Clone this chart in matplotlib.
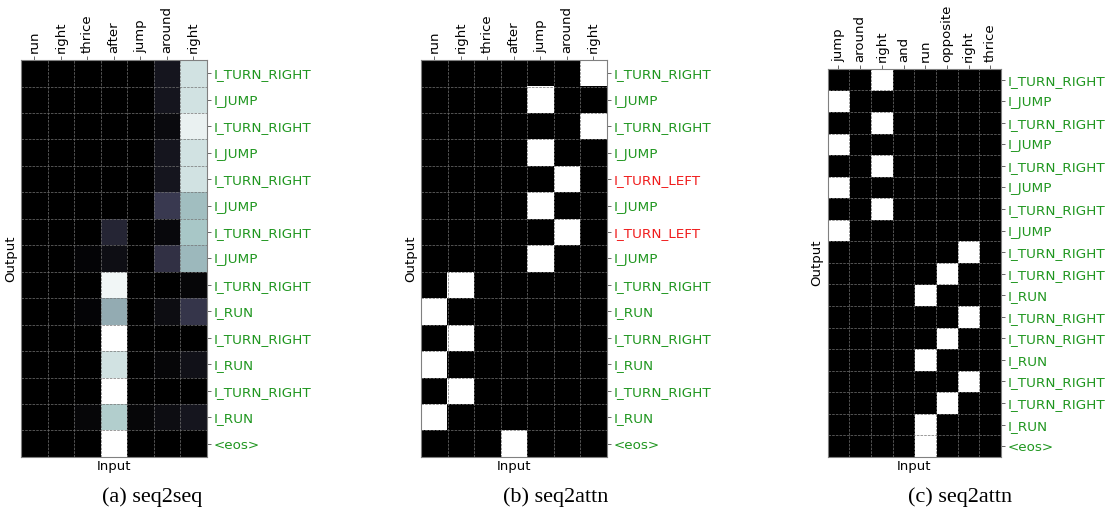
"""
Attention maps for three SCAN examples: seq2seq vs seq2attn.
"""

import numpy as np
import matplotlib
matplotlib.use("Agg")
import matplotlib.pyplot as plt

# ── Data ──────────────────────────────────────────────────────────────────────

inputs_a = ["run", "right", "thrice", "after", "jump", "around", "right"]
outputs_a = ["I_TURN_RIGHT", "I_JUMP", "I_TURN_RIGHT", "I_JUMP", "I_TURN_RIGHT",
             "I_JUMP", "I_TURN_RIGHT", "I_JUMP", "I_TURN_RIGHT", "I_RUN",
             "I_TURN_RIGHT", "I_RUN", "I_TURN_RIGHT", "I_RUN", "<eos>"]
attn_a = [
    [0.00, 0.00, 0.00, 0.00, 0.00, 0.10, 0.87],
    [0.00, 0.00, 0.00, 0.00, 0.00, 0.10, 0.87],
    [0.00, 0.00, 0.00, 0.00, 0.00, 0.05, 0.94],
    [0.00, 0.00, 0.00, 0.00, 0.00, 0.10, 0.87],
    [0.00, 0.00, 0.00, 0.00, 0.00, 0.10, 0.87],
    [0.00, 0.00, 0.00, 0.00, 0.00, 0.26, 0.72],
    [0.00, 0.00, 0.00, 0.17, 0.00, 0.04, 0.75],
    [0.00, 0.00, 0.02, 0.07, 0.00, 0.22, 0.70],
    [0.00, 0.00, 0.00, 0.96, 0.00, 0.00, 0.03],
    [0.00, 0.00, 0.02, 0.66, 0.00, 0.06, 0.24],
    [0.00, 0.00, 0.00, 1.00, 0.00, 0.00, 0.00],
    [0.00, 0.00, 0.00, 0.87, 0.00, 0.03, 0.08],
    [0.00, 0.00, 0.00, 1.00, 0.00, 0.00, 0.00],
    [0.00, 0.00, 0.03, 0.78, 0.03, 0.06, 0.10],
    [0.00, 0.00, 0.00, 1.00, 0.00, 0.00, 0.00],
]

inputs_b = ["run", "right", "thrice", "after", "jump", "around", "right"]
outputs_b = ["I_TURN_RIGHT", "I_JUMP", "I_TURN_RIGHT", "I_JUMP", "I_TURN_LEFT",
             "I_JUMP", "I_TURN_LEFT", "I_JUMP", "I_TURN_RIGHT", "I_RUN",
             "I_TURN_RIGHT", "I_RUN", "I_TURN_RIGHT", "I_RUN", "<eos>"]
wrong_b = [4, 6]
# attended input index for each output step (hard attention)
focus_b = [6, 4, 6, 4, 5, 4, 5, 4, 1, 0, 1, 0, 1, 0, 3]

inputs_c = ["jump", "around", "right", "and", "run", "opposite", "right", "thrice"]
outputs_c = ["I_TURN_RIGHT", "I_JUMP", "I_TURN_RIGHT", "I_JUMP", "I_TURN_RIGHT",
             "I_JUMP", "I_TURN_RIGHT", "I_JUMP", "I_TURN_RIGHT", "I_TURN_RIGHT",
             "I_RUN", "I_TURN_RIGHT", "I_TURN_RIGHT", "I_RUN", "I_TURN_RIGHT",
             "I_TURN_RIGHT", "I_RUN", "<eos>"]
wrong_c = []
focus_c = [2, 0, 2, 0, 2, 0, 2, 0, 6, 5, 4, 6, 5, 4, 6, 5, 4, 4]

captions = ["(a) seq2seq", "(b) seq2attn", "(c) seq2attn"]


def one_hot(focus, n_in):
    m = np.zeros((len(focus), n_in))
    m[np.arange(len(focus)), focus] = 1.0
    return m


# ── Plotting ──────────────────────────────────────────────────────────────────

def draw_attention(ax, matrix, inputs, outputs, wrong):
    matrix = np.asarray(matrix)
    ax.imshow(matrix, cmap="bone", vmin=0, vmax=1, aspect="auto",
              interpolation="nearest")

    ax.set_xticks(np.arange(len(inputs)))
    ax.set_yticks(np.arange(len(outputs)))
    ax.xaxis.tick_top()
    ax.yaxis.tick_right()
    ax.set_xticklabels(inputs, rotation=90, fontsize=9.5)
    ax.set_yticklabels(outputs, fontsize=9.7)
    ax.tick_params(length=3, width=0.6, pad=2, color="0.3")

    # labels live on the right side (label2) after tick_right()
    for i, tick in enumerate(ax.yaxis.get_major_ticks()):
        tick.label2.set_color("#f01c1c" if i in wrong else "#1f961f")

    # cell borders
    ax.set_xticks(np.arange(-0.5, len(inputs), 1), minor=True)
    ax.set_yticks(np.arange(-0.5, len(outputs), 1), minor=True)
    ax.tick_params(which="minor", length=0)
    ax.grid(which="minor", color="0.45", linestyle="--", linewidth=0.5)
    ax.grid(which="major", visible=False)

    ax.set_xlabel("Input", fontsize=9.5, labelpad=2)
    ax.set_ylabel("Output", fontsize=9.5, labelpad=3)
    ax.xaxis.set_label_position("bottom")
    ax.yaxis.set_label_position("left")
    for sp in ax.spines.values():
        sp.set_color("0.5")
        sp.set_linewidth(0.8)


fig = plt.figure(figsize=(11.05, 5.18), dpi=100)

ax_a = fig.add_axes([0.019, 0.118, 0.168, 0.766])
ax_b = fig.add_axes([0.381, 0.118, 0.168, 0.766])
ax_c = fig.add_axes([0.749, 0.118, 0.157, 0.749])

draw_attention(ax_a, attn_a, inputs_a, outputs_a, [])
draw_attention(ax_b, one_hot(focus_b, len(inputs_b)), inputs_b, outputs_b, wrong_b)
draw_attention(ax_c, one_hot(focus_c, len(inputs_c)), inputs_c, outputs_c, wrong_c)

for x, cap in zip([0.138, 0.503, 0.869], captions):
    fig.text(x, 0.04, cap, ha="center", va="center", fontsize=16,
             family="Liberation Serif")

fig.savefig("out.png", dpi=100)
